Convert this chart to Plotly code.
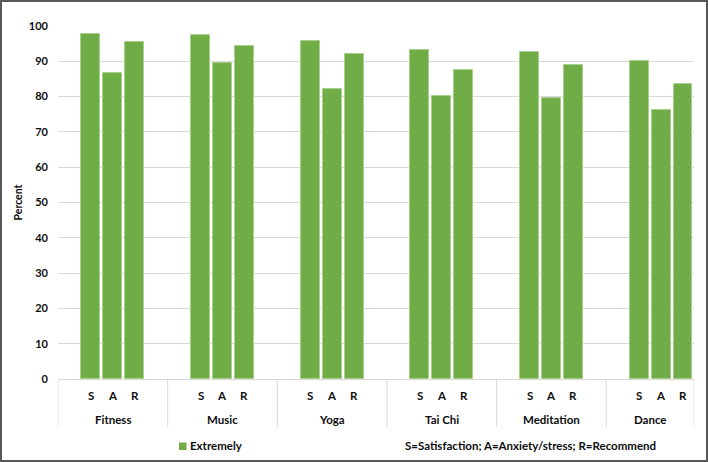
import plotly.graph_objects as go

groups = ["Fitness", "Music", "Yoga", "Tai Chi", "Meditation", "Dance"]
sub_labels = ["S", "A", "R"]
extremely = [
    [97.6, 86.6, 95.5],
    [97.5, 89.6, 94.2],
    [95.8, 82.2, 92.2],
    [93.1, 80.3, 87.4],
    [92.5, 79.5, 88.9],
    [90.0, 76.3, 83.5],
]
y_ticks = [0, 10, 20, 30, 40, 50, 60, 70, 80, 90, 100]
series_name = "Extremely"
note_text = "S=Satisfaction; A=Anxiety/stress; R=Recommend"

W, H = 708, 462
L, R, T, B = 58, 14, 26, 83
pw, ph = W - L - R, H - T - B
SLOTS = 5
xmax = SLOTS * len(groups) - 1  # last group truncated like the reference
GREEN = "#70AD47"


def below(px_y):
    """paper y for a pixel row (from top of figure)"""
    return -(px_y - (H - B)) / ph


def px_x(px):
    return (px - L) / pw


xs, ys = [], []
for g, vals in enumerate(extremely):
    for j, v in enumerate(vals):
        xs.append(g * SLOTS + 1.5 + j)
        ys.append(v)

FONT = "Lato"
TXT = "#0d0d0d"

fig = go.Figure()
fig.add_trace(go.Bar(
    x=xs, y=ys, width=0.86, name=series_name,
    marker=dict(color=GREEN, line=dict(color="#A9D08E", width=1)),
    showlegend=False, hoverinfo="skip",
))

annotations = []
shapes = []

for g, name in enumerate(groups):
    for j, s in enumerate(sub_labels):
        annotations.append(dict(x=g * SLOTS + 1.5 + j, y=below(395.5), xref="x", yref="paper",
                                xanchor="center", yanchor="middle", text=f"<b>{s}</b>", showarrow=False,
                                font=dict(family=FONT, size=11.5, color=TXT)))
    gx0 = g * SLOTS
    gx1 = min((g + 1) * SLOTS, xmax)
    annotations.append(dict(x=(gx0 + gx1) / 2, y=below(419), xref="x", yref="paper",
                            xanchor="center", yanchor="middle",
                            text=f"<b>{name}</b>", showarrow=False, font=dict(family=FONT, size=11.5, color=TXT)))
for k in range(len(groups) + 1):
    xv = min(k * SLOTS, xmax)
    shapes.append(dict(type="line", xref="x", yref="paper", x0=xv, x1=xv, y0=0, y1=below(427),
                       line=dict(color="#D9D9D9", width=1)))

# legend (key + label)
shapes.append(dict(type="rect", xref="paper", yref="paper", x0=px_x(179), x1=px_x(186.5),
                   y0=below(450), y1=below(442.5), fillcolor=GREEN, line=dict(width=0)))
annotations.append(dict(x=px_x(188), y=below(446), xref="paper", yref="paper", xanchor="left",
                        yanchor="middle", text=f"<b>{series_name}</b>", showarrow=False,
                        font=dict(family=FONT, size=11.5, color=TXT)))

annotations.append(dict(x=px_x(530.5), y=below(446), xref="paper", yref="paper",
                        xanchor="center", yanchor="middle",
                        text=f"<b>{note_text}</b>", showarrow=False, font=dict(family=FONT, size=11.5, color=TXT)))

# outer frame
shapes.append(dict(type="rect", xref="paper", yref="paper",
                   x0=px_x(1), x1=px_x(W - 1), y0=below(H - 1), y1=below(1),
                   line=dict(color="#595959", width=2)))

fig.update_layout(
    width=W, height=H,
    margin=dict(l=L, r=R, t=T, b=B, autoexpand=False),
    paper_bgcolor="white", plot_bgcolor="white",
    font=dict(family=FONT, size=11, color=TXT),
    xaxis=dict(range=[0, xmax], showticklabels=False, showgrid=False, zeroline=False, automargin=False,
               showline=True, linecolor="#D9D9D9", linewidth=1, ticks="", fixedrange=True),
    yaxis=dict(range=[0, 100], tickvals=y_ticks, ticktext=[f"<b>{t}</b>" for t in y_ticks],
               showgrid=True, gridcolor="#D9D9D9", gridwidth=1, zeroline=False, showline=False,
               automargin=False, ticks="", ticklen=0, tickfont=dict(family=FONT, size=11, color=TXT),
               ticklabelstandoff=9, fixedrange=True,
               title=dict(text="<b>Percent</b>", font=dict(family=FONT, size=10.5, color=TXT), standoff=4)),
    showlegend=False,
    annotations=annotations, shapes=shapes,
    bargap=0,
)

fig.write_html("out.html", config={"displayModeBar": False},
               post_script="document.body.style.margin='0';document.body.style.overflow='hidden';")
